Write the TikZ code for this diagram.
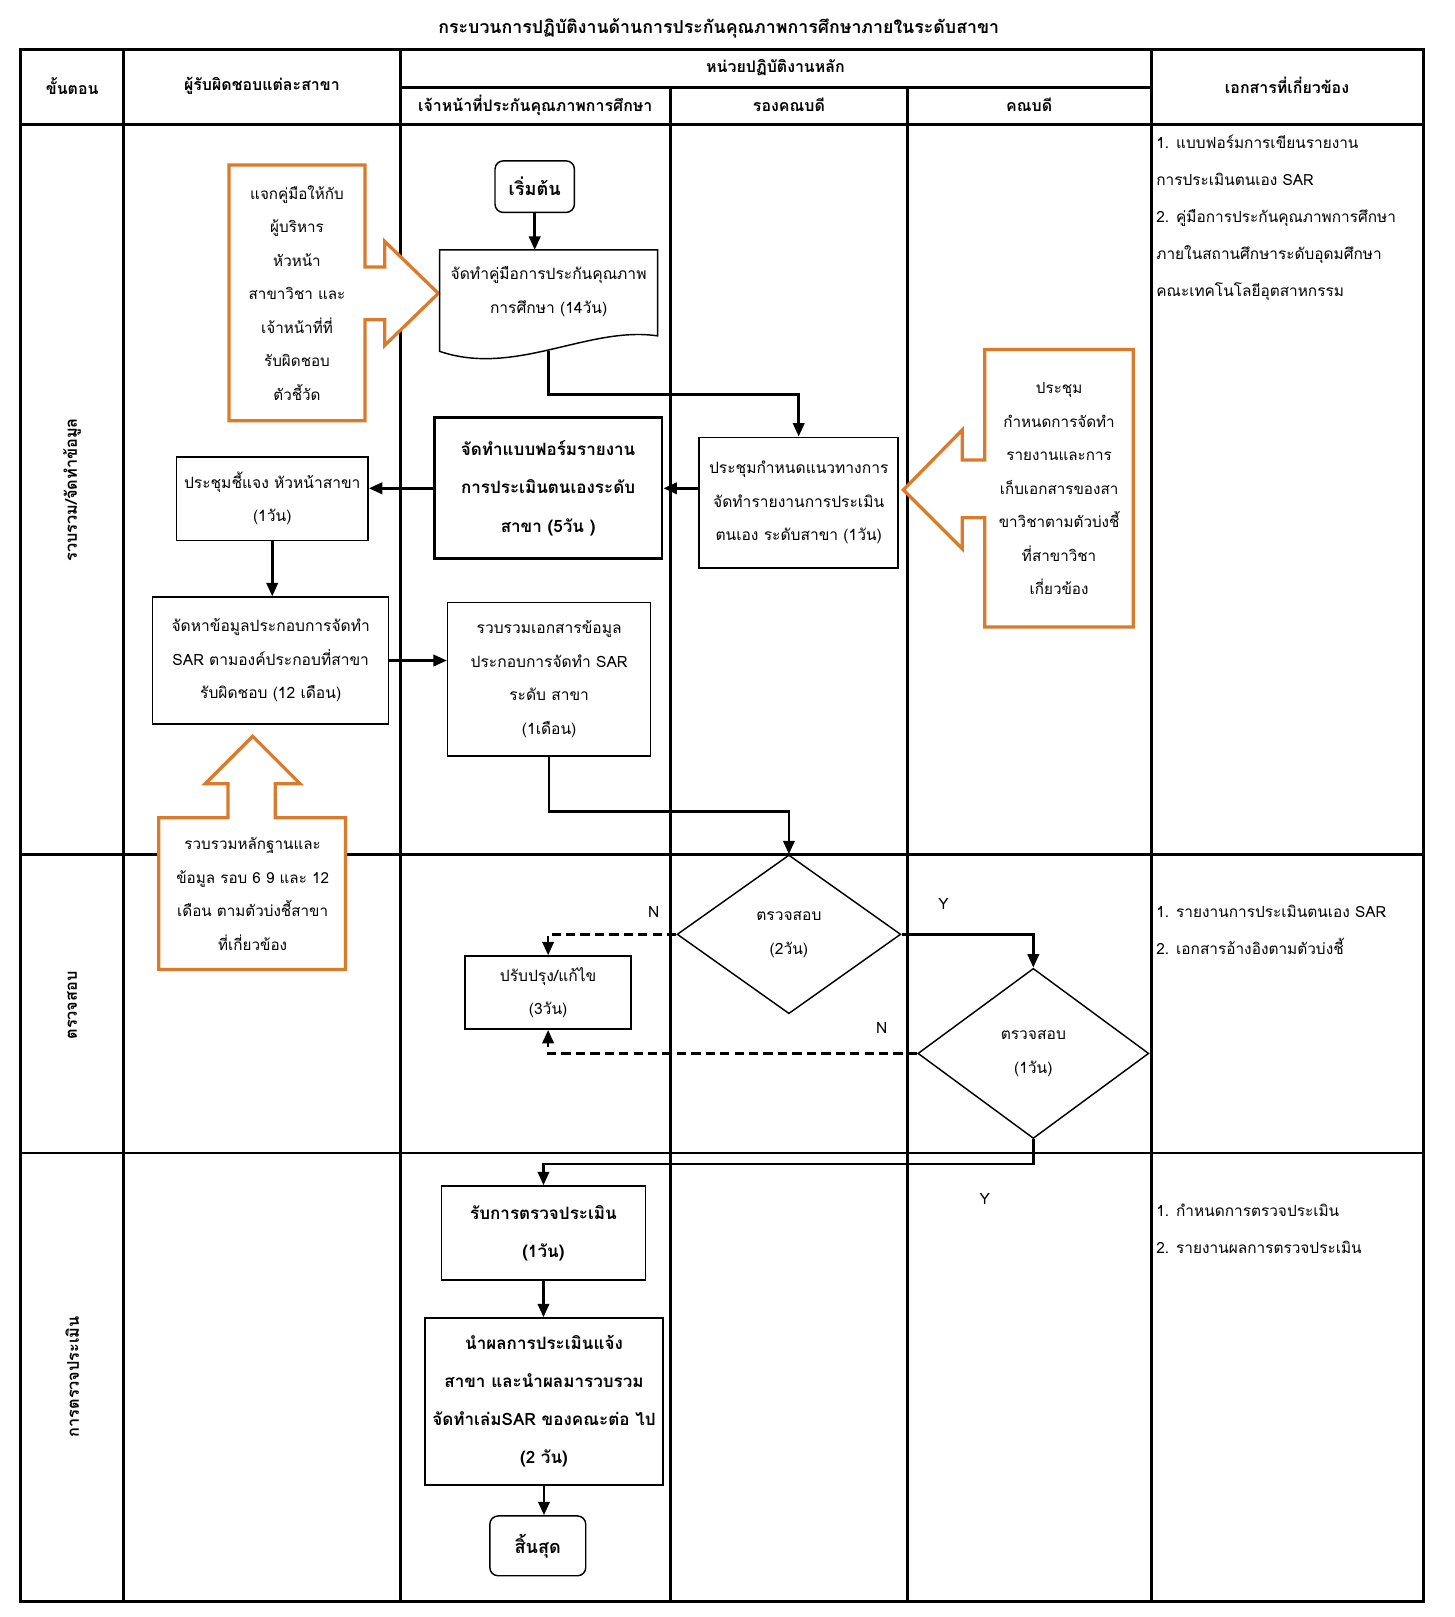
\documentclass[tikz,border=0pt]{standalone}
\usepackage{fontspec}
\setmainfont[Script=Thai]{Loma}
\usepackage{tikz}
\usetikzlibrary{positioning,arrows.meta,shapes.geometric}
\definecolor{calloutorange}{RGB}{217,123,43}
\tikzset{
	lane/.style={line width=1.6pt},
	box/.style={draw, line width=0.8pt, align=center, inner sep=0pt, font=\fontsize{8.6}{18.5}\selectfont},
	boldbox/.style={box, font=\bfseries\fontsize{9.4}{21}\selectfont},
	terminal/.style={box, rounded corners=0.16cm, font=\bfseries\fontsize{10}{14}\selectfont},
	check/.style={box, diamond, aspect=1.4},
	callout/.style={draw=calloutorange, line width=1.8pt, fill=white},
	note/.style={align=center, inner sep=0pt, font=\fontsize{8.4}{18.5}\selectfont},
	flow/.style={-{Triangle[length=0.26cm,width=0.22cm]}, line width=1.4pt},
	reject/.style={flow, dash pattern=on 0.18cm off 0.1cm},
	head/.style={font=\bfseries\fontsize{8.8}{12}\selectfont},
	lanelabel/.style={rotate=90, font=\bfseries\fontsize{9}{12}\selectfont},
	doclist/.style={align=left, inner sep=0pt, anchor=north west, font=\fontsize{8.5}{20.4}\selectfont},
	flag/.style={font=\fontsize{8.6}{12}\selectfont},
}

\begin{document}
\begin{tikzpicture}[x=0.02cm, y=-0.02cm]
		\useasboundingbox (0,0) rectangle (1410,1568);

		% table
		\draw[lane] (20,48) rectangle (1380,1553);
		\draw[lane] (120,48) -- (120,1553)
		(388,48) -- (388,1553)
		(650,85) -- (650,1553)
		(880,85) -- (880,1553)
		(1117,48) -- (1117,1553)
		(388,85) -- (1117,85)
		(20,121) -- (1380,121)
		(20,829) -- (1380,829)
		(20,1118) -- (1380,1118);

		\node[head, font=\bfseries\fontsize{9.8}{14}\selectfont] (title) at (697,28) {กระบวนการปฏิบัติงานด้านการประกันคุณภาพการศึกษาภายในระดับสาขา};
		\node[head] (hstep) at (70,83) {ขั้นตอน};
		\node[head] (howner) at (254,83) {ผู้รับผิดชอบแต่ละสาขา};
		\node[head] (hunit) at (752,66) {หน่วยปฏิบัติงานหลัก};
		\node[head] (hqa) at (519,102) {เจ้าหน้าที่ประกันคุณภาพการศึกษา};
		\node[head] (hvice) at (765,102) {รองคณบดี};
		\node[head] (hdean) at (998,102) {คณบดี};
		\node[head] (hdocs) at (1248,83) {เอกสารที่เกี่ยวข้อง};

		\node[lanelabel] (lanecollect) at (70,475) {รวบรวม/จัดทำข้อมูล};
		\node[lanelabel] (lanecheck) at (70,975) {ตรวจสอบ};
		\node[lanelabel] (laneaudit) at (70,1335) {การตรวจประเมิน};

		% callouts
		\draw[callout] (222,160) -- (354,160) -- (354,259) -- (373,259) -- (373,234) -- (425,284.5)
		-- (373,335) -- (373,310) -- (354,310) -- (354,408) -- (222,408) -- cycle;
		\node[note] (handout) at (288,284) {แจกคู่มือให้กับ\\ผู้บริหาร\\หัวหน้า\\สาขาวิชา และ\\เจ้าหน้าที่ที่\\รับผิดชอบ\\ตัวชี้วัด};
		\draw[callout] (955,339) -- (1099,339) -- (1099,608) -- (955,608) -- (955,502) -- (933,502)
		-- (933,532) -- (876,475) -- (933,417) -- (933,446) -- (955,446) -- cycle;
		\node[note] (meetnote) at (1027,474) {ประชุม\\กำหนดการจัดทำ\\รายงานและการ\\เก็บเอกสารของสา\\ขาวิชาตามตัวบ่งชี้\\ที่สาขาวิชา\\เกี่ยวข้อง};
		\draw[callout] (154,793) -- (221,793) -- (221,760) -- (199,760) -- (245,714) -- (291,760)
		-- (267,760) -- (267,793) -- (335,793) -- (335,940) -- (154,940) -- cycle;
		\node[note] (evidence) at (245,867) {รวบรวมหลักฐานและ\\ข้อมูล รอบ 6 9 และ 12\\เดือน ตามตัวบ่งชี้สาขา\\ที่เกี่ยวข้อง};

		% steps
		\node[terminal, minimum width=1.54cm, minimum height=1cm] (start) at (518.5,181) {เริ่มต้น};
		\node[box, draw=none, minimum width=4.2cm, minimum height=1.6cm] (manual) at (532,283) {จัดทำคู่มือการประกันคุณภาพ\\การศึกษา (14วัน)};
		\draw[line width=0.8pt] (manual.north west) -- (manual.north east) -- ([yshift=-0.04cm]manual.south east)
		.. controls +(-67,-10) and +(73,25) .. ([yshift=-0.34cm]manual.south west) -- cycle;
		\node[boldbox, line width=1.6pt, minimum width=4.42cm, minimum height=2.74cm] (form) at (531.5,473.5) {จัดทำแบบฟอร์มรายงาน\\การประเมินตนเองระดับ\\สาขา (5วัน )};
		\node[box, minimum width=3.86cm, minimum height=2.54cm] (guide) at (774.5,487.5) {ประชุมกำหนดแนวทางการ\\จัดทำรายงานการประเมิน\\ตนเอง ระดับสาขา (1วัน)};
		\node[box, minimum width=3.72cm, minimum height=1.62cm] (brief) at (264,483.5) {ประชุมชี้แจง หัวหน้าสาขา\\(1วัน)};
		\node[box, minimum width=4.58cm, minimum height=2.46cm] (collect) at (262.5,640.5) {จัดหาข้อมูลประกอบการจัดทำ\\SAR ตามองค์ประกอบที่สาขา\\รับผิดชอบ (12 เดือน)};
		\node[box, minimum width=3.94cm, minimum height=2.98cm] (gather) at (532.5,658.5) {รวบรวมเอกสารข้อมูล\\ประกอบการจัดทำ SAR\\ระดับ สาขา\\(1เดือน)};
		\node[check, minimum width=4.34cm, minimum height=3.08cm] (review) at (765,906) {ตรวจสอบ\\(2วัน)};
		\node[check, minimum width=4.48cm, minimum height=3.3cm] (approve) at (1002,1021.5) {ตรวจสอบ\\(1วัน)};
		\node[box, minimum width=3.22cm, minimum height=1.42cm] (revise) at (531.5,962.5) {ปรับปรุง/แก้ไข\\(3วัน)};
		\node[boldbox, minimum width=3.96cm, minimum height=1.82cm] (audit) at (527,1195.5) {รับการตรวจประเมิน\\(1วัน)};
		\node[boldbox, minimum width=4.62cm, minimum height=3.24cm] (report) at (527.5,1359) {นำผลการประเมินแจ้ง\\สาขา และนำผลมารวบรวม\\จัดทำเล่มSAR ของคณะต่อ ไป\\(2 วัน)};
		\node[terminal, minimum width=1.86cm, minimum height=1.16cm] (finish) at (521.5,1499) {สิ้นสุด};

		% related documents
		\node[doclist] (docscollect) at (1121,131) {1. แบบฟอร์มการเขียนรายงาน\\การประเมินตนเอง SAR\\2. คู่มือการประกันคุณภาพการศึกษา\\ภายในสถานศึกษาระดับอุดมศึกษา\\คณะเทคโนโลยีอุตสาหกรรม};
		\node[doclist] (docscheck) at (1121,877) {1. รายงานการประเมินตนเอง SAR\\2. เอกสารอ้างอิงตามตัวบ่งชี้};
		\node[doclist] (docsaudit) at (1121,1167) {1. กำหนดการตรวจประเมิน\\2. รายงานผลการตรวจประเมิน};

		% connectors
		\draw[flow] (start.south) -- (start.south |- manual.north);
		\draw[flow] ([yshift=-0.34cm]manual.south) -- ++(0,42) -| (guide.north);
		\draw[flow] (guide.west |- form.east) -- (form.east);
		\draw[flow] (form.west) -- (form.west -| brief.east);
		\draw[flow] (brief.south) -- (brief.south |- collect.north);
		\draw[flow] (collect.east) -- (collect.east -| gather.west);
		\draw[flow] (gather.south) -- ++(0,53) -| (review.north);
		\draw[reject] (review.west) -| (revise.north);
		\draw[flow] (review.east) -| (approve.north);
		\draw[reject] (approve.west) -| (revise.south);
		\draw[flow] (approve.south) -- ++(0,24) -| (audit.north);
		\draw[flow] (audit.south) -- (audit.south |- report.north);
		\draw[flow] (report.south) -- (report.south |- finish.north);

		\node[flag] (noreview) at (634,884) {N};
		\node[flag] (yesreview) at (915,877) {Y};
		\node[flag] (noapprove) at (855,997) {N};
		\node[flag] (yesapprove) at (955,1163) {Y};
	\end{tikzpicture}
\end{document}
